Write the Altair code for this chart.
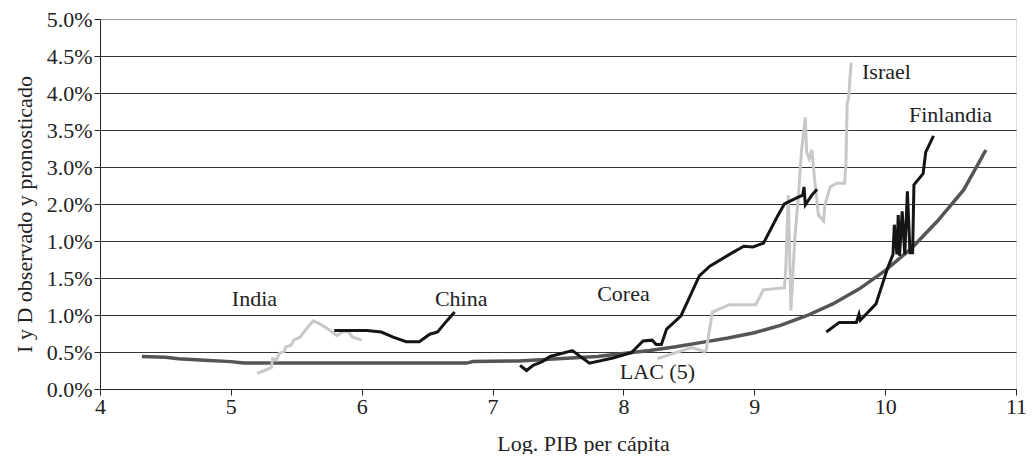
import altair as alt
import pandas as pd

# ---- data (y in axis-slot units 0..5) ----
forecast_x = [4.32, 4.5, 4.6, 4.8, 5.0, 5.1, 6.0, 6.8, 6.85, 7.2, 7.5, 7.8, 8.0, 8.2, 8.4, 8.6, 8.8, 9.0, 9.2, 9.4, 9.6, 9.8, 10.0, 10.2, 10.4, 10.6, 10.77]
forecast_y = [0.44, 0.43, 0.41, 0.39, 0.37, 0.35, 0.35, 0.35, 0.37, 0.38, 0.41, 0.44, 0.48, 0.52, 0.57, 0.63, 0.69, 0.76, 0.86, 0.99, 1.15, 1.35, 1.60, 1.90, 2.27, 2.69, 3.23]

india_x = [5.20, 5.27, 5.31, 5.32, 5.35, 5.37, 5.41, 5.42, 5.46, 5.48, 5.53, 5.55, 5.59, 5.63, 5.68, 5.76, 5.81, 5.86, 5.90, 5.93, 6.00]
india_y = [0.21, 0.26, 0.29, 0.41, 0.39, 0.48, 0.51, 0.57, 0.59, 0.66, 0.70, 0.75, 0.84, 0.92, 0.88, 0.79, 0.72, 0.78, 0.77, 0.70, 0.66]

china_x = [5.79, 5.93, 6.04, 6.15, 6.24, 6.34, 6.44, 6.52, 6.58, 6.65, 6.71]
china_y = [0.79, 0.79, 0.79, 0.77, 0.70, 0.64, 0.64, 0.74, 0.77, 0.92, 1.04]

corea_x = [7.21, 7.26, 7.31, 7.38, 7.44, 7.61, 7.74, 7.92, 8.06, 8.15, 8.22, 8.25, 8.29, 8.33, 8.44, 8.51, 8.58, 8.66, 8.83, 8.92, 8.99, 9.07, 9.17, 9.23, 9.32, 9.37, 9.38, 9.39, 9.44, 9.48]
corea_y = [0.32, 0.25, 0.32, 0.37, 0.44, 0.52, 0.35, 0.42, 0.49, 0.65, 0.66, 0.60, 0.60, 0.81, 0.99, 1.26, 1.53, 1.66, 1.84, 1.93, 1.92, 1.97, 2.31, 2.50, 2.58, 2.62, 2.73, 2.49, 2.62, 2.70]

lac_x = [8.26, 8.52, 8.63]
lac_y = [0.41, 0.56, 0.50]

israel_x = [8.63, 8.68, 8.81, 9.01, 9.07, 9.23, 9.24, 9.26, 9.28, 9.31, 9.34, 9.36, 9.39, 9.40, 9.42, 9.44, 9.46, 9.49, 9.53, 9.54, 9.58, 9.63, 9.69, 9.70, 9.71, 9.72, 9.74]
israel_y = [0.50, 1.04, 1.14, 1.14, 1.34, 1.37, 1.60, 2.62, 1.06, 2.04, 2.67, 3.20, 3.67, 3.20, 3.11, 3.23, 2.85, 2.35, 2.27, 2.49, 2.73, 2.78, 2.78, 3.03, 3.87, 3.92, 4.41]

finlandia_x = [9.55, 9.65, 9.78, 9.80, 9.81, 9.93, 10.02, 10.06, 10.07, 10.09, 10.10, 10.11, 10.13, 10.15, 10.17, 10.19, 10.21, 10.22, 10.29, 10.31, 10.37]
finlandia_y = [0.77, 0.90, 0.90, 1.01, 0.93, 1.15, 1.64, 1.82, 2.22, 1.82, 2.35, 1.80, 2.40, 1.82, 2.67, 1.84, 1.84, 2.76, 2.91, 3.20, 3.42]

label_text = ["India", "China", "Corea", "LAC (5)", "Israel", "Finlandia"]
label_x = [5.18, 6.76, 8.00, 8.26, 10.01, 10.50]
label_y = [1.22, 1.22, 1.29, 0.23, 4.28, 3.70]

y_tick_values = [0, 0.5, 1, 1.5, 2, 2.5, 3, 3.5, 4, 4.5, 5]
y_tick_labels = ["0.0%", "0.5%", "1.0%", "1.5%", "1.0%", "2.0%", "3.0%", "3.5%", "4.0%", "4.5%", "5.0%"]
x_tick_values = [4, 5, 6, 7, 8, 9, 10, 11]


def frame(name, xs, ys):
    return pd.DataFrame({"x": xs, "y": ys, "serie": name, "i": range(len(xs))})


df_forecast = frame("Pronóstico", forecast_x, forecast_y)
df_gray = pd.concat([frame("India", india_x, india_y), frame("LAC (5)", lac_x, lac_y),
                     frame("Israel", israel_x, israel_y)])
df_black = pd.concat([frame("China", china_x, china_y), frame("Corea", corea_x, corea_y),
                      frame("Finlandia", finlandia_x, finlandia_y)])
df_labels = pd.DataFrame({"x": label_x, "y": label_y, "t": label_text})

FONT = "Liberation Serif"
FS = 22
label_array = "[" + ",".join("'%s'" % s for s in y_tick_labels) + "]"

x_enc = alt.X("x:Q", scale=alt.Scale(domain=[4, 11], nice=False, zero=False),
              axis=alt.Axis(values=x_tick_values, format="d", title="Log. PIB per cápita", grid=False,
                            domainColor="#222", tickColor="#222", tickSize=6,
                            labelFont=FONT, labelFontSize=FS, labelColor="#222", labelPadding=1,
                            labelFlush=False,
                            titleFont=FONT, titleFontSize=FS, titleFontWeight="normal",
                            titleColor="#222", titleX=483, titleY=54,
                            titleAlign="center", titleBaseline="middle"))
y_enc = alt.Y("y:Q", scale=alt.Scale(domain=[0, 5], nice=False),
              axis=alt.Axis(values=y_tick_values, labelExpr=label_array + "[round(datum.value*2)]",
                            title="I y D observado y pronosticado", grid=True,
                            gridColor={"condition": {"test": "datum.value >= 5", "value": "#999"}, "value": "#333"},
                            gridWidth=1, domainColor="#222", tickColor="#222", tickSize=6,
                            labelFont=FONT, labelFontSize=FS, labelColor="#222", labelPadding=2,
                            labelFlush=False, labelOverlap=False,
                            titleFont=FONT, titleFontSize=FS, titleFontWeight="normal",
                            titleColor="#222", titleAngle=270, titleX=-76, titleY=195,
                            titleAlign="center", titleBaseline="middle"))

forecast = alt.Chart(df_forecast).mark_line(color="#555555", strokeWidth=3.5).encode(
    x=x_enc, y=y_enc, detail="serie:N", order="i:Q")
gray = alt.Chart(df_gray).mark_line(color="#c8c8c8", strokeWidth=3).encode(
    x=x_enc, y=y_enc, detail="serie:N", order="i:Q")
black = alt.Chart(df_black).mark_line(color="#151515", strokeWidth=3).encode(
    x=x_enc, y=y_enc, detail="serie:N", order="i:Q")
labels = alt.Chart(df_labels).mark_text(font=FONT, fontSize=FS, color="#222").encode(
    x=x_enc, y=y_enc, text="t:N")

chart = alt.layer(forecast, gray, black, labels).properties(
    width=916, height=370,
    autosize=alt.AutoSizeParams(type="none"),
    padding={"left": 92, "top": 11, "right": 10, "bottom": 65},
).configure_view(stroke="#999999", strokeWidth=1).configure(background="white")

chart.save("out.html", embed_options={"renderer": "svg", "actions": False})
